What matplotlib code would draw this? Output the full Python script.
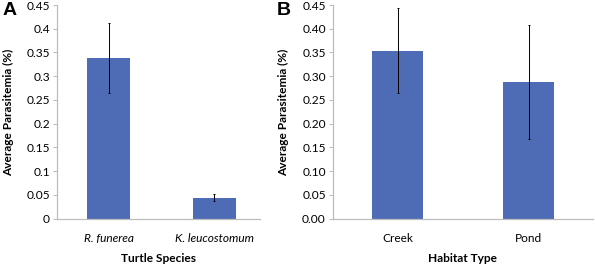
import matplotlib.pyplot as plt

# panel A: parasitemia by turtle species
species = ["R. funerea", "K. leucostomum"]
species_mean = [0.338, 0.044]
species_err = [0.074, 0.007]

# panel B: parasitemia by habitat
habitat = ["Creek", "Pond"]
habitat_mean = [0.354, 0.287]
habitat_err = [0.090, 0.120]

yticks_a = [0, 0.05, 0.1, 0.15, 0.2, 0.25, 0.3, 0.35, 0.4, 0.45]
yticks_b = [0.0, 0.05, 0.10, 0.15, 0.20, 0.25, 0.30, 0.35, 0.40, 0.45]

bar_color = "#4E6CB5"
axis_gray = "#BDBDBD"
fs = 8.6

plt.rcParams["font.family"] = ["Lato", "DejaVu Sans"]

fig = plt.figure(figsize=(5.95, 2.65), dpi=100)
ax_a = fig.add_axes([56.7 / 595, 0.175, (260 - 56.7) / 595, 0.806])
ax_b = fig.add_axes([332.7 / 595, 0.175, (593 - 332.7) / 595, 0.806])


def style_axis(ax, labels, xlabel, ticks, tick_fmt, xlim):
    ax.set_ylim(0, 0.45)
    ax.set_xlim(*xlim)
    ax.set_yticks(ticks)
    ax.set_yticklabels([tick_fmt(t) for t in ticks], fontsize=fs)
    ax.set_xticks(range(len(labels)))
    for s in ["top", "right"]:
        ax.spines[s].set_visible(False)
    for s in ["left", "bottom"]:
        ax.spines[s].set_color(axis_gray)
        ax.spines[s].set_linewidth(0.9)
    ax.tick_params(axis="y", length=3, color=axis_gray, pad=2)
    ax.tick_params(axis="x", length=0, pad=10)
    ax.set_xlabel(xlabel, fontsize=fs, fontweight="bold", labelpad=6.5)
    ax.set_ylabel("Average Parasitemia (%)", fontsize=fs, fontweight="bold", labelpad=9)


def fmt_a(t):
    return "0" if t == 0 else ("%g" % t)


def fmt_b(t):
    return "%.2f" % t


ax_a.bar(range(len(species)), species_mean, width=0.4, color=bar_color,
         yerr=species_err, error_kw=dict(ecolor="black", elinewidth=0.7, capsize=1, capthick=0.7))
style_axis(ax_a, species, "Turtle Species", yticks_a, fmt_a, (-0.49, 1.43))
ax_a.set_xticklabels(species, fontsize=fs, fontstyle="italic")

ax_b.bar(range(len(habitat)), habitat_mean, width=0.39, color=bar_color,
         yerr=habitat_err, error_kw=dict(ecolor="black", elinewidth=0.7, capsize=1, capthick=0.7))
style_axis(ax_b, habitat, "Habitat Type", yticks_b, fmt_b, (-0.495, 1.49))
ax_b.set_xticklabels(habitat, fontsize=fs)

fig.text(3 / 595, 1 - 15 / 265, "A", fontsize=14, fontweight="bold", family="Liberation Sans")
fig.text(277 / 595, 1 - 15 / 265, "B", fontsize=14, fontweight="bold", family="Liberation Sans")

fig.savefig("out.png", dpi=100)
